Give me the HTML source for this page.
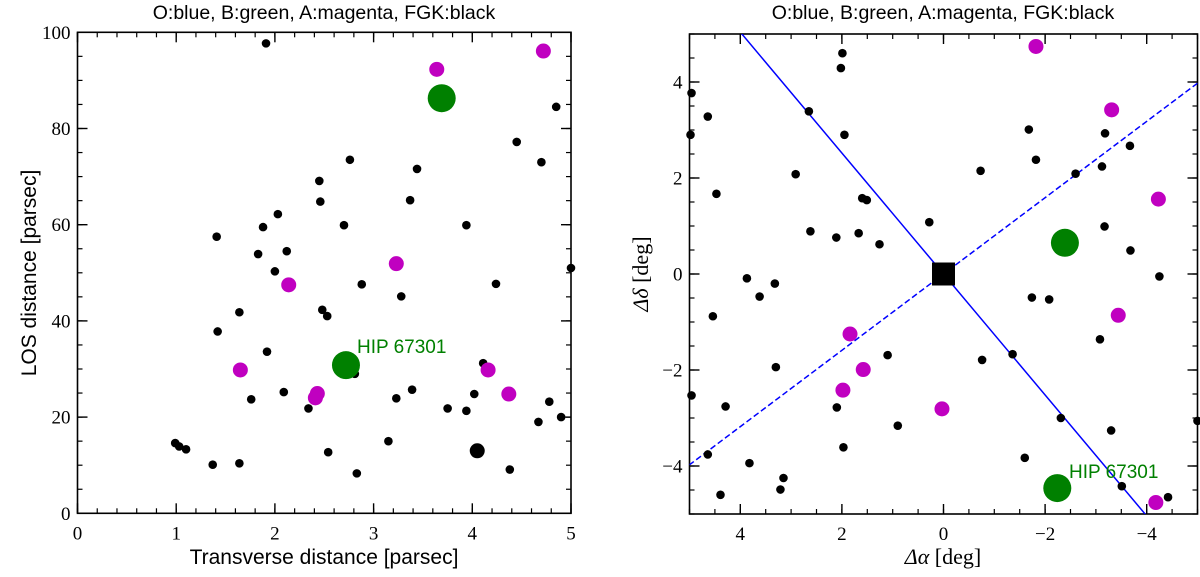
<!DOCTYPE html>
<html><head><meta charset="utf-8"><style>
html,body{margin:0;padding:0;background:#fff}
svg{display:block}
.t{font-family:"Liberation Sans",sans-serif;font-size:19.5px}
.tk{font-family:"Liberation Serif",serif;font-size:19px}
</style></head><body>
<svg id="c" width="1200" height="577" xmlns="http://www.w3.org/2000/svg"></svg>
<script>
// Left panel data (transverse distance pc, LOS distance pc)
const leftBlackX=[1.91,4.85,4.45,4.70,2.76,3.44,2.45,2.46,3.37,2.03,1.88,2.70,3.94,1.41,1.83,2.12,2.00,5.0,2.88,4.24,3.28,1.64,2.48,2.53,1.42,1.92,2.81,4.11,2.09,1.76,2.34,3.23,3.39,4.02,3.75,3.94,4.78,4.67,4.90,0.99,1.03,1.10,1.37,1.64,2.54,3.15,2.83,4.38];
const leftBlackY=[97.7,84.5,77.2,73.0,73.5,71.6,69.1,64.8,65.1,62.2,59.5,59.9,59.9,57.5,53.9,54.5,50.3,51,47.6,47.7,45.1,41.8,42.3,41.0,37.8,33.6,29.0,31.2,25.2,23.7,21.8,23.9,25.7,24.8,21.8,21.3,23.2,19.0,20.0,14.6,13.9,13.3,10.1,10.4,12.7,15.0,8.3,9.1];
const leftBigBlackX=[4.05];
const leftBigBlackY=[13.0];
const leftMagX=[3.64,4.72,3.23,2.14,1.65,4.16,2.43,2.41,4.37];
const leftMagY=[92.3,96.1,51.9,47.5,29.8,29.8,24.9,24.0,24.8];
const leftGreenX=[3.69,2.72];
const leftGreenY=[86.3,30.8];
// Right panel data (delta alpha, delta delta in deg)
const rightBlackA=[1.99,2.02,4.96,4.64,2.65,4.98,1.95,-1.68,-3.18,-3.67,-1.82,-0.73,-3.12,-2.60,2.91,4.47,1.60,1.51,0.28,-3.17,2.62,2.11,1.67,1.26,-3.68,-4.25,3.87,3.32,3.62,4.54,1.10,3.30,4.96,4.29,2.10,0.90,1.97,4.64,3.82,3.15,3.21,4.39,-0.76,-1.36,-1.74,-2.08,-3.08,-2.31,-3.30,-5.0,-1.60,-3.51,-4.42];
const rightBlackD=[4.60,4.29,3.77,3.28,3.39,2.90,2.90,3.01,2.93,2.67,2.38,2.15,2.24,2.09,2.08,1.67,1.58,1.54,1.08,0.99,0.89,0.76,0.85,0.62,0.49,-0.05,-0.09,-0.20,-0.47,-0.88,-1.69,-1.94,-2.53,-2.76,-2.78,-3.16,-3.61,-3.76,-3.94,-4.25,-4.49,-4.60,-1.79,-1.67,-0.49,-0.53,-1.36,-3.0,-3.26,-3.06,-3.83,-4.42,-4.65];
const rightMagA=[-1.82,-3.31,-4.23,1.84,1.58,1.98,0.03,-3.44,-4.18];
const rightMagD=[4.74,3.42,1.56,-1.25,-1.99,-2.42,-2.81,-0.86,-4.76];
const rightGreenA=[-2.39,-2.24];
const rightGreenD=[0.65,-4.46];
const solidSlope=[1.26];
const dashSlope=[-0.795];

const S=document.getElementById('c');
const NS='http://www.w3.org/2000/svg';
function mk(tag,attrs,parent){const e=document.createElementNS(NS,tag);for(const k in attrs)e.setAttribute(k,attrs[k]);(parent||S).appendChild(e);return e;}

const L={x0:77.5,x1:571,y0:513.3,y1:32.3,xmin:0,xmax:5,ymin:0,ymax:100};
const R={x0:689.5,x1:1197.5,y0:514,y1:34,xmin:5,xmax:-5,ymin:-5,ymax:5};
function sx(P,v){return P.x0+(v-P.xmin)/(P.xmax-P.xmin)*(P.x1-P.x0);}
function sy(P,v){return P.y0+(v-P.ymin)/(P.ymax-P.ymin)*(P.y1-P.y0);}

function frame(P,name,xMaj,xMin,yMaj,yMin,xLab,yLab){
  const g=mk('g',{});
  
  
  xMin.forEach(v=>{const x=sx(P,v);mk('line',{x1:x,x2:x,y1:P.y0,y2:P.y0-5,stroke:'#000','stroke-width':1.2},g);mk('line',{x1:x,x2:x,y1:P.y1,y2:P.y1+5,stroke:'#000','stroke-width':1.2},g);});
  yMin.forEach(v=>{const y=sy(P,v);mk('line',{x1:P.x0,x2:P.x0+5,y1:y,y2:y,stroke:'#000','stroke-width':1.2},g);mk('line',{x1:P.x1,x2:P.x1-5,y1:y,y2:y,stroke:'#000','stroke-width':1.2},g);});
  xMaj.forEach((v,i)=>{const x=sx(P,v);mk('line',{x1:x,x2:x,y1:P.y0,y2:P.y0-10,stroke:'#000','stroke-width':1.4},g);mk('line',{x1:x,x2:x,y1:P.y1,y2:P.y1+10,stroke:'#000','stroke-width':1.4},g);
    const t=mk('text',{x:x,y:P.y0+26,'text-anchor':'middle',class:'tk'},g);t.textContent=xLab[i];
    
    });
  yMaj.forEach((v,i)=>{const y=sy(P,v);mk('line',{x1:P.x0,x2:P.x0+10,y1:y,y2:y,stroke:'#000','stroke-width':1.4},g);mk('line',{x1:P.x1,x2:P.x1-10,y1:y,y2:y,stroke:'#000','stroke-width':1.4},g);
    const t=mk('text',{x:P.x0-7,y:y+6.5,'text-anchor':'end',class:'tk'},g);t.textContent=yLab[i];
    
    });
  mk('rect',{x:P.x0,y:P.y1,width:P.x1-P.x0,height:P.y0-P.y1,fill:'none',stroke:'#000','stroke-width':1.6},g);
}
const lxMaj=[0,1,2,3,4,5],lxLab=['0','1','2','3','4','5'];
const lyMaj=[0,20,40,60,80,100],lyLab=['0','20','40','60','80','100'];
const rxMaj=[4,2,0,-2,-4],rxLab=['4','2','0','\u22122','\u22124'];
const ryMaj=[-4,-2,0,2,4],ryLab=['\u22124','\u22122','0','2','4'];
const lxMin=[],lyMin=[],rxMin=[],ryMin=[];
for(let i=0;i<=25;i++)lxMin.push(i*0.2);
for(let i=0;i<=20;i++)lyMin.push(i*5);
for(let i=-10;i<=10;i++){rxMin.push(i*0.5);ryMin.push(i*0.5);}
frame(L,'left',lxMaj,lxMin,lyMaj,lyMin,lxLab,lyLab);
frame(R,'right',rxMaj,rxMin,ryMaj,ryMin,rxLab,ryLab);

function dots(P,xs,ys,r,col,name){
  const g=mk('g',{});
  
  
  xs.forEach((v,i)=>{const c=mk('circle',{cx:sx(P,v),cy:sy(P,ys[i]),r:r,fill:col},g);
    
    });
}
const cp=mk('clipPath',{id:'rc'});mk('rect',{x:R.x0,y:R.y1,width:R.x1-R.x0,height:R.y0-R.y1},cp);
const sl=mk('line',{x1:sx(R,-5),y1:sy(R,-5*solidSlope[0]),x2:sx(R,5),y2:sy(R,5*solidSlope[0]),stroke:'#0000ff','stroke-width':1.5,'clip-path':'url(#rc)'});


const dl=mk('line',{x1:sx(R,-5),y1:sy(R,-5*dashSlope[0]),x2:sx(R,5),y2:sy(R,5*dashSlope[0]),stroke:'#0000ff','stroke-width':1.5,'stroke-dasharray':'6,3','clip-path':'url(#rc)'});



dots(L,leftBlackX,leftBlackY,4.3,'#000','left-fgk-stars');
dots(L,leftBigBlackX,leftBigBlackY,7.5,'#000','left-big-fgk-star');
dots(L,leftMagX,leftMagY,7.5,'#c000c0','left-a-stars');
dots(L,leftGreenX,leftGreenY,14,'#008000','left-b-stars');
dots(R,rightBlackA,rightBlackD,4.3,'#000','right-fgk-stars');
dots(R,rightMagA,rightMagD,7.5,'#c000c0','right-a-stars');
dots(R,rightGreenA,rightGreenD,14,'#008000','right-b-stars');
const sq=mk('rect',{x:sx(R,0)-11.5,y:sy(R,0)-11.5,width:23,height:23,fill:'#000'});


</script>
<svg width="1200" height="577" style="position:absolute;left:0;top:0" xmlns="http://www.w3.org/2000/svg">
<text class="t" x="324" y="19" text-anchor="middle">O:blue, B:green, A:magenta, FGK:black</text>
<text class="t" x="943" y="19" text-anchor="middle">O:blue, B:green, A:magenta, FGK:black</text>
<text x="324" y="564" text-anchor="middle" style="font-family:'Liberation Sans',sans-serif;font-size:21px">Transverse distance [parsec]</text>
<text x="0" y="0" transform="translate(36,273) rotate(-90)" text-anchor="middle" style="font-family:'Liberation Sans',sans-serif;font-size:21px">LOS distance [parsec]</text>
<text x="943" y="564" text-anchor="middle" style="font-family:'Liberation Serif',serif;font-size:22px"><tspan font-style="italic">Δα</tspan> [deg]</text>
<text x="0" y="0" transform="translate(648,274) rotate(-90)" text-anchor="middle" style="font-family:'Liberation Serif',serif;font-size:22px"><tspan font-style="italic">Δδ</tspan> [deg]</text>
<text x="357" y="353" fill="#008000" style="font-family:'Liberation Sans',sans-serif;font-size:19px">HIP 67301</text>
<text x="1069" y="478" fill="#008000" style="font-family:'Liberation Sans',sans-serif;font-size:19px">HIP 67301</text>
</svg>
</body></html>
